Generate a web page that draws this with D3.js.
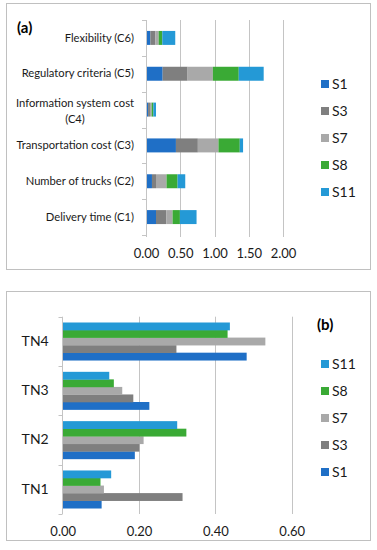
<!DOCTYPE html>
<html><head><meta charset="utf-8">
<script src="https://cdnjs.cloudflare.com/ajax/libs/d3/7.8.5/d3.min.js"></script>
<style>
body{margin:0;background:#fff;}
svg{display:block;font-family:Lato,"Open Sans",sans-serif;}
</style></head>
<body><svg id="c" width="377" height="550"></svg>
<script>
// ---- Panel (a) data ----
const categoriesA = ["Delivery time (C1)", "Number of trucks  (C2)", "Transportation cost (C3)",
  "Information system cost (C4)", "Regulatory criteria (C5)", "Flexibility (C6)"];
const seriesA = ["S1", "S3", "S7", "S8", "S11"];
const a_S1  = [0.146, 0.087, 0.437, 0.030, 0.243, 0.063];
const a_S3  = [0.150, 0.059, 0.320, 0.028, 0.364, 0.073];
const a_S7  = [0.092, 0.154, 0.301, 0.025, 0.369, 0.049];
const a_S8  = [0.107, 0.161, 0.311, 0.024, 0.378, 0.053];
const a_S11 = [0.243, 0.112, 0.048, 0.039, 0.364, 0.189];
const ticksA = [0, 0.5, 1, 1.5, 2];

// ---- Panel (b) data ----
const categoriesB = ["TN1", "TN2", "TN3", "TN4"];
const seriesB = ["S1", "S3", "S7", "S8", "S11"];
const b_S1  = [0.102, 0.189, 0.227, 0.482];
const b_S3  = [0.314, 0.201, 0.185, 0.298];
const b_S7  = [0.108, 0.212, 0.156, 0.531];
const b_S8  = [0.099, 0.324, 0.134, 0.432];
const b_S11 = [0.127, 0.300, 0.122, 0.438];
const ticksB = [0, 0.2, 0.4, 0.6];

const colors = {S1:"#1f6fc6", S3:"#7f7f7f", S7:"#a9a9a9", S8:"#3aaa35", S11:"#2499d6"};
const gridColor = "#c4c4c4";
const frameColor = "#c0c0c0";
const textColor = "#1a1a1a";

const svg = d3.select("#c");

// frames
svg.append("rect").attr("x",6.5).attr("y",3.5).attr("width",364).attr("height",266)
  .attr("fill","none").attr("stroke",frameColor);
svg.append("rect").attr("x",6.5).attr("y",291.5).attr("width",364).attr("height",249)
  .attr("fill","none").attr("stroke",frameColor);

// ================= Panel (a) =================
(function(){
  const valsA = {S1:a_S1, S3:a_S3, S7:a_S7, S8:a_S8, S11:a_S11};
  const rows = categoriesA.map((c,i)=>{ const r={cat:c}; seriesA.forEach(s=>r[s]=valsA[s][i]); return r; });
  const stack = d3.stack().keys(seriesA)(rows);
  const x = d3.scaleLinear().domain([0,2]).range([146,283]);
  const y = d3.scaleBand().domain(categoriesA.slice().reverse()).range([20,235])
    .paddingInner(0.61).paddingOuter(0.305);
  const g = svg.append("g");
  g.selectAll("line.grid").data(ticksA.slice(1)).join("line")
    .attr("x1",d=>Math.round(x(d))+0.5).attr("x2",d=>Math.round(x(d))+0.5)
    .attr("y1",20).attr("y2",237).attr("stroke",gridColor);
  g.selectAll("g.s").data(stack).join("g").attr("fill",d=>colors[d.key])
    .selectAll("rect").data(d=>d).join("rect")
    .attr("x",d=>x(d[0])).attr("width",d=>x(d[1])-x(d[0]))
    .attr("y",d=>y(d.data.cat)).attr("height",y.bandwidth());
  const step = y.step();
  g.append("line").attr("x1",146.5).attr("x2",146.5).attr("y1",20).attr("y2",237).attr("stroke",gridColor);
  g.selectAll("line.bt").data(d3.range(categoriesA.length+1)).join("line")
    .attr("x1",142).attr("x2",146).attr("y1",i=>Math.round(20+i*step)+0.5).attr("y2",i=>Math.round(20+i*step)+0.5)
    .attr("stroke",gridColor);
  const yAx = d3.axisLeft(y).tickSize(0).tickPadding(12);
  const ya = g.append("g").attr("transform","translate(146,0)").call(yAx);
  ya.select(".domain").remove();
  ya.selectAll("text").attr("font-size","11.2px").attr("fill",textColor)
    .attr("font-family","Lato,'Open Sans',sans-serif")
    .each(function(d){
      const t = d3.select(this);
      const m = d.match(/^(.*\S)\s+(\(C\d\))$/);
      if (d.length > 25 && m) {
        t.text(null);
        const l1 = t.append("tspan").attr("x",-12).attr("dy","-0.2em").text(m[1]);
        const w = l1.node().getComputedTextLength();
        t.append("tspan").attr("x",-12 - w/2).attr("dy","1.4em").attr("text-anchor","middle").text(m[2]);
      }
    });
  const xAx = d3.axisBottom(x).tickValues(ticksA).tickFormat(d3.format(".2f")).tickSize(0).tickPadding(12);
  const xa = g.append("g").attr("transform","translate(0,237)").call(xAx);
  xa.select(".domain").remove();
  xa.selectAll("text").attr("font-size","13px").attr("fill",textColor).attr("font-family","Lato,'Open Sans',sans-serif");
  const lg = g.selectAll("g.lg").data(seriesA).join("g")
    .attr("transform",(d,i)=>`translate(321,${80+i*27})`);
  lg.append("rect").attr("width",8).attr("height",8).attr("fill",d=>colors[d]);
  lg.append("text").attr("x",11).attr("y",9).attr("font-size","14px").attr("fill",textColor).text(d=>d);
  g.append("text").attr("x",17).attr("y",33).attr("font-size","15px").attr("font-weight","bold")
    .attr("fill","#000").text("(a)");
})();

// ================= Panel (b) =================
(function(){
  const valsB = {S1:b_S1, S3:b_S3, S7:b_S7, S8:b_S8, S11:b_S11};
  const rows = [];
  categoriesB.forEach((c,i)=>seriesB.forEach(s=>rows.push({cat:c, s:s, v:valsB[s][i]})));
  const x = d3.scaleLinear().domain([0,0.6]).range([62.7,291.7]);
  const y = d3.scaleBand().domain(categoriesB.slice().reverse()).range([316.7,514])
    .paddingInner(0.235).paddingOuter(0.1175);
  const y1 = d3.scaleBand().domain(seriesB.slice().reverse()).range([0,y.bandwidth()]);
  const g = svg.append("g");
  g.selectAll("line.grid").data(ticksB.slice(1)).join("line")
    .attr("x1",d=>Math.round(x(d))+0.5).attr("x2",d=>Math.round(x(d))+0.5)
    .attr("y1",316.7).attr("y2",514).attr("stroke",gridColor);
  g.selectAll("rect.bar").data(rows).join("rect")
    .attr("x",x(0)).attr("width",d=>x(d.v)-x(0))
    .attr("y",d=>y(d.cat)+y1(d.s)).attr("height",y1.bandwidth()+0.3)
    .attr("fill",d=>colors[d.s]);
  const step = y.step();
  g.append("line").attr("x1",62.5).attr("x2",62.5).attr("y1",316.7).attr("y2",514).attr("stroke",gridColor);
  g.selectAll("line.bt").data(d3.range(categoriesB.length+1)).join("line")
    .attr("x1",58.5).attr("x2",62.5).attr("y1",i=>Math.round(316.7+i*step)+0.5).attr("y2",i=>Math.round(316.7+i*step)+0.5)
    .attr("stroke",gridColor);
  const yAx = d3.axisLeft(y).tickSize(0).tickPadding(14);
  const ya = g.append("g").attr("transform","translate(62.7,0)").call(yAx);
  ya.select(".domain").remove();
  ya.selectAll("text").attr("font-size","14px").attr("fill",textColor).attr("font-family","Lato,'Open Sans',sans-serif");
  const xAx = d3.axisBottom(x).tickValues(ticksB).tickFormat(d3.format(".2f")).tickSize(0).tickPadding(13);
  const xa = g.append("g").attr("transform","translate(0,514)").call(xAx);
  xa.select(".domain").remove();
  xa.selectAll("text").attr("font-size","13px").attr("fill",textColor).attr("font-family","Lato,'Open Sans',sans-serif");
  const lg = g.selectAll("g.lg").data(seriesB.slice().reverse()).join("g")
    .attr("transform",(d,i)=>`translate(321,${360+i*27})`);
  lg.append("rect").attr("width",8).attr("height",8).attr("fill",d=>colors[d]);
  lg.append("text").attr("x",11).attr("y",9).attr("font-size","14px").attr("fill",textColor).text(d=>d);
  g.append("text").attr("x",317).attr("y",330).attr("font-size","15px").attr("font-weight","bold")
    .attr("fill","#000").text("(b)");
})();
</script></body></html>
